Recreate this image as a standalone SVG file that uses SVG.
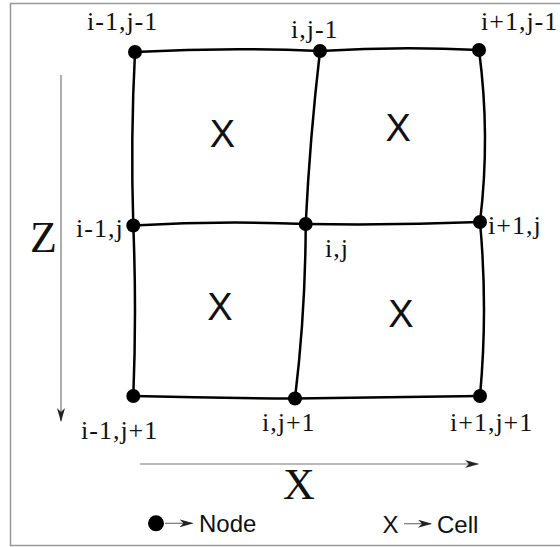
<svg xmlns="http://www.w3.org/2000/svg" width="560" height="547" viewBox="0 0 560 547">
<style>
.edge{fill:none;stroke:#000;stroke-width:2.5}
.node{fill:#000}
.lbl{font-family:"Liberation Serif",serif;font-size:26px;letter-spacing:1px;fill:#111}
.cell{font-family:"Liberation Sans",sans-serif;font-size:38px;fill:#111;text-anchor:middle}
.axis{font-family:"Liberation Serif",serif;font-size:44px;fill:#111}
.leg{font-family:"Liberation Sans",sans-serif;font-size:24px;fill:#111}
.ax{stroke:#777;stroke-width:1.2;fill:none}
</style>
<defs>
<marker id="ah" markerWidth="14" markerHeight="8" refX="13" refY="4" orient="auto" markerUnits="userSpaceOnUse">
<path d="M0,0 L14,4 L0,8 L4,4 Z" fill="#222"/>
</marker>
</defs>
<rect x="10.5" y="3.5" width="560" height="542" fill="#fff" stroke="#999" stroke-width="1.5"/>
<g id="connectors">
<path class="edge" d="M135,52 Q227.5,47.1 320,51"/>
<path class="edge" d="M320,51 Q399.5,46.1 479,50"/>
<path class="edge" d="M135,52 Q130.5,138.5 133.3,225.5"/>
<path class="edge" d="M320,51 Q309.9,137.5 305.7,224"/>
<path class="edge" d="M479,50 Q490.5,136 480,222"/>
<path class="edge" d="M133.3,225.5 Q219.5,220.6 305.7,224"/>
<path class="edge" d="M305.7,224 Q393,225.5 480,222"/>
<path class="edge" d="M133.3,225.5 Q136.7,311 133.3,396"/>
<path class="edge" d="M305.7,224 Q305.6,311 295,398.5"/>
<path class="edge" d="M480,222 Q488,309 480,396"/>
<path class="edge" d="M133.3,396 Q214,398 295,398.5"/>
<path class="edge" d="M295,398.5 Q387.5,397.5 480,396"/>
</g>
<g id="n-i-1_j-1"><circle class="node" cx="135" cy="52" r="7"/><text class="lbl" x="87" y="30">i-1,j-1</text></g>
<g id="n-i_j-1"><circle class="node" cx="320" cy="51" r="7"/><text class="lbl" x="291" y="38">i,j-1</text></g>
<g id="n-i+1_j-1"><circle class="node" cx="479" cy="50" r="7"/><text class="lbl" x="481" y="30">i+1,j-1</text></g>
<g id="n-i-1_j"><circle class="node" cx="133.3" cy="225.5" r="7"/><text class="lbl" x="76" y="237">i-1,j</text></g>
<g id="n-i_j"><circle class="node" cx="305.7" cy="224" r="7"/><text class="lbl" x="325" y="257">i,j</text></g>
<g id="n-i+1_j"><circle class="node" cx="480" cy="222" r="7"/><text class="lbl" x="488" y="234">i+1,j</text></g>
<g id="n-i-1_j+1"><circle class="node" cx="133.3" cy="396" r="7"/><text class="lbl" x="81" y="439">i-1,j+1</text></g>
<g id="n-i_j+1"><circle class="node" cx="295" cy="398.5" r="7"/><text class="lbl" x="262" y="431">i,j+1</text></g>
<g id="n-i+1_j+1"><circle class="node" cx="480" cy="396" r="7"/><text class="lbl" x="450" y="431">i+1,j+1</text></g>
<g id="cells">
<text class="cell" x="222.5" y="146.7">X</text>
<text class="cell" x="398.3" y="141">X</text>
<text class="cell" x="220" y="320">X</text>
<text class="cell" x="401" y="327">X</text>
</g>
<g id="axes">
<line class="ax" x1="61" y1="75" x2="61" y2="421" marker-end="url(#ah)"/>
<text class="axis" x="30" y="251.7">Z</text>
<line class="ax" x1="140" y1="464" x2="478" y2="464" marker-end="url(#ah)"/>
<text class="axis" x="283" y="499">X</text>
</g>
<g id="legend">
<circle class="node" cx="156" cy="523.3" r="8"/>
<line class="ax" x1="165" y1="523.3" x2="192.5" y2="523.3" marker-end="url(#ah)"/>
<text class="leg" x="199" y="531.7">Node</text>
<text class="leg" x="382.5" y="532.7">X</text>
<line class="ax" x1="404" y1="523.7" x2="431" y2="523.7" marker-end="url(#ah)"/>
<text class="leg" x="437" y="532.7">Cell</text>
</g>
</svg>
